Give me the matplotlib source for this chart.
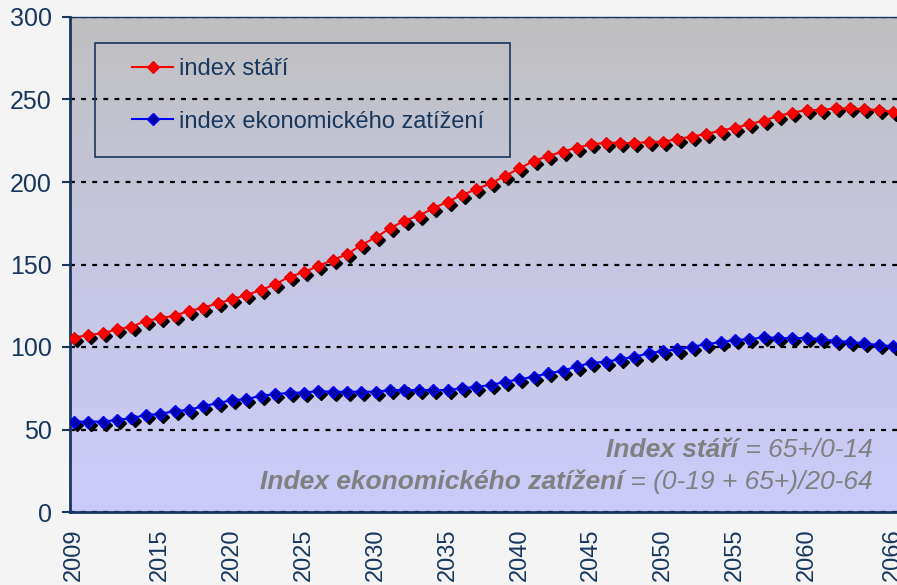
import numpy as np
import matplotlib
matplotlib.use("Agg")
import matplotlib.pyplot as plt
from matplotlib.transforms import ScaledTranslation
from matplotlib.patches import Rectangle
from matplotlib.colors import LinearSegmentedColormap

plt.rcParams['font.family'] = ['Liberation Sans', 'DejaVu Sans']

# data
years = list(range(2009, 2067))
index_stari = [105.6, 107.3, 108.3, 110.7, 112.3, 115.8, 117.4, 119.0, 121.8, 123.8,
               126.5, 128.9, 131.5, 134.5, 138.0, 142.6, 145.3, 149.1, 152.7, 156.2,
               161.8, 166.5, 171.9, 176.6, 179.6, 184.0, 188.1, 192.1, 195.6, 199.2,
               203.6, 208.3, 212.7, 215.7, 218.4, 220.8, 222.8, 223.8, 223.8, 223.4,
               224.4, 224.4, 226.1, 227.5, 229.1, 231.1, 232.9, 235.0, 237.2, 240.0,
               242.0, 243.6, 243.6, 244.6, 244.6, 244.2, 243.6, 242.6]
index_zatizeni = [54.8, 54.8, 54.8, 55.8, 56.8, 58.8, 59.4, 61.2, 61.8, 64.2,
                  65.9, 67.9, 68.3, 70.5, 71.3, 72.3, 72.4, 73.3, 72.9, 72.9,
                  72.9, 72.9, 73.9, 73.9, 73.9, 73.9, 73.9, 74.9, 75.9, 76.9,
                  78.9, 80.4, 82.0, 84.0, 85.6, 88.2, 90.4, 91.0, 92.6, 94.1,
                  96.1, 97.7, 98.5, 100.1, 101.6, 103.0, 104.2, 104.8, 105.8, 105.6,
                  105.2, 105.6, 104.8, 103.6, 103.2, 102.2, 101.2, 100.5]
xtick_years = [2009, 2015, 2020, 2025, 2030, 2035, 2040, 2045, 2050, 2055, 2060, 2066]
labels = ["index stáří", "index ekonomického zatížení"]

navy = '#17375e'
gray = '#808080'

fig = plt.figure(figsize=(8.97, 5.85), dpi=100, facecolor='#f4f4f4')
ax = fig.add_axes([70 / 897, 1 - 512 / 585, 827 / 897, 495 / 585])

xmin, xmax = 2008.72, 2066.28

# gradient background of the plot area: grey at the top, lavender at the bottom
cmap = LinearSegmentedColormap.from_list('bg', ['#c0c0c0', '#c6c6e2', '#cbcbfb'])
grad = np.linspace(1, 0, 256).reshape(-1, 1)
ax.imshow(grad, cmap=cmap, extent=[xmin, xmax, 0, 300], aspect='auto',
          origin='lower', zorder=0)
ax.set_xlim(xmin, xmax)
ax.set_ylim(0, 300)

ax.yaxis.grid(True, color='black', linestyle=(0, (2.2, 2.8)), linewidth=1.6, zorder=1)
ax.set_axisbelow(True)

shadow = ax.transData + ScaledTranslation(2.2 / 72, -2.2 / 72, fig.dpi_scale_trans)
ms = 6
ax.plot(years, index_stari, linestyle='none', marker='D', ms=ms, color='black',
        transform=shadow, zorder=2)
ax.plot(years, index_zatizeni, linestyle='none', marker='D', ms=ms, color='black',
        transform=shadow, zorder=2)
l1, = ax.plot(years, index_stari, color='#ff0000', lw=1.5, marker='D', ms=ms,
              markerfacecolor='#ff0000', markeredgecolor='#e00000', mew=0.8, zorder=3)
l2, = ax.plot(years, index_zatizeni, color='#0000ff', lw=1.5, marker='D', ms=ms,
              markerfacecolor='#0000a8', markeredgecolor='#0000ff', mew=1.0, zorder=3)

# spines and ticks
for s in ['left', 'bottom']:
    ax.spines[s].set_color(navy)
    ax.spines[s].set_linewidth(2)
ax.spines['top'].set_color(navy)
ax.spines['top'].set_linewidth(1)
ax.spines['right'].set_visible(False)

ax.set_yticks(range(0, 301, 50))
ax.tick_params(axis='y', colors=navy, labelsize=18, length=6, width=1.5, pad=7)
ax.set_xticks(xtick_years)
ax.set_xticklabels([str(y) for y in xtick_years], rotation=90)
ax.tick_params(axis='x', colors=navy, labelsize=17, length=0, pad=12)

# legend box
ax.add_patch(Rectangle((25 / 827, (512 - 157) / 495), 415 / 827, 114 / 495,
                       transform=ax.transAxes, facecolor='none', edgecolor=navy,
                       linewidth=1.2, zorder=4))
ax.legend([l1, l2], labels, loc='upper left', bbox_to_anchor=(62 / 827, (512 - 58) / 495),
          frameon=False, fontsize=17, labelcolor=navy, numpoints=1,
          handlelength=1.74, handletextpad=0.25, labelspacing=1.3,
          borderpad=0, borderaxespad=0)

# formula notes
xr = 2064.6
t1 = ax.text(xr, 33.4, " = 65+/0-14", ha='right', va='baseline', fontsize=19,
             style='italic', color=gray, zorder=5)
ax.annotate("Index stáří", xy=(0, 0), xycoords=t1, ha='right', va='bottom',
            fontsize=19, style='italic', weight='bold', color=gray, zorder=5)
t2 = ax.text(xr, 14.0, " = (0-19 + 65+)/20-64", ha='right', va='baseline', fontsize=19,
             style='italic', color=gray, zorder=5)
ax.annotate("Index ekonomického zatížení", xy=(0, 0), xycoords=t2, ha='right',
            va='bottom', fontsize=19, style='italic', weight='bold', color=gray, zorder=5)

fig.savefig('out.png', dpi=100, facecolor=fig.get_facecolor())
